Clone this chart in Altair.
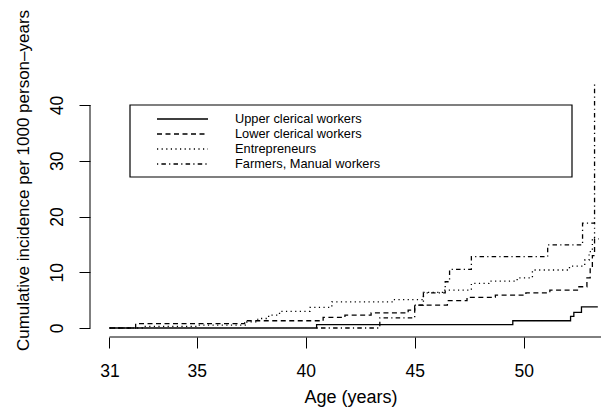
import altair as alt
import pandas as pd

groups = ["Upper clerical workers", "Lower clerical workers",
          "Entrepreneurs", "Farmers, Manual workers"]

upper_age = [31.0, 40.5, 49.5, 52.15, 52.3, 52.65, 53.4]
upper_inc = [0.0, 0.6, 1.3, 2.1, 2.8, 3.8, 3.8]

lower_age = [31.0, 32.2, 37.2, 40.8, 41.8, 43.0, 44.7, 45.0, 46.5, 47.4, 48.7,
             50.1, 51.2, 52.5, 52.9, 53.05, 53.15, 53.25, 53.45]
lower_inc = [0.0, 0.8, 1.3, 1.9, 2.3, 2.7, 3.2, 4.1, 4.9, 5.5, 5.9,
             6.3, 6.8, 7.4, 9.0, 10.8, 13.0, 16.0, 16.0]

entre_age = [31.0, 32.5, 35.0, 37.3, 37.8, 38.3, 38.8, 40.2, 41.2, 44.0, 45.4,
             46.3, 47.6, 48.4, 49.7, 50.4, 52.1, 52.8, 53.0, 53.15, 53.25, 53.35]
entre_inc = [0.0, 0.3, 0.5, 1.1, 1.7, 2.3, 3.0, 3.7, 4.7, 5.1, 6.4,
             6.8, 8.0, 8.4, 9.0, 10.4, 11.1, 12.2, 13.7, 16.1, 18.8, 18.8]

farm_age = [40.5, 43.4, 45.0, 45.4, 46.4, 46.6, 47.6, 51.1, 52.7, 53.25, 53.3]
farm_inc = [0.0, 1.8, 4.1, 6.3, 8.3, 10.5, 12.8, 14.9, 18.8, 44.0, 44.0]

x_ticks = [31, 35, 40, 45, 50]
y_ticks = [0, 10, 20, 30, 40]

X_DOMAIN = [30.106, 53.546]
Y_DOMAIN = [-1.614, 45.74]
W, H = 511, 264
FONT = "Liberation Sans"

rows = []
for g, ages, incs in zip(groups,
                         [upper_age, lower_age, entre_age, farm_age],
                         [upper_inc, lower_inc, entre_inc, farm_inc]):
    for a, v in zip(ages, incs):
        rows.append({"group": g, "age": a, "inc": v})
df = pd.DataFrame(rows)

dash_scale = alt.Scale(domain=groups,
                       range=[[1, 0], [5, 3.5], [1.2, 3.4], [1.2, 3.2, 4.5, 3.2]])
xs = alt.Scale(domain=X_DOMAIN, nice=False, zero=False)
ys = alt.Scale(domain=Y_DOMAIN, nice=False, zero=False)

lines = alt.Chart(df).mark_line(interpolate="step-after", color="black",
                                strokeWidth=1.3).encode(
    x=alt.X("age:Q", scale=xs, axis=alt.Axis(
        values=x_ticks, title="Age (years)", domain=False, grid=False,
        tickSize=11, tickColor="black", tickWidth=1,
        labelFont=FONT, labelFontSize=17.5, labelColor="black", labelPadding=14,
        titleFont=FONT, titleFontSize=18, titleFontWeight="normal",
        titleColor="black", titleX=260.5, titleY=65, titleBaseline="alphabetic")),
    y=alt.Y("inc:Q", scale=ys, axis=alt.Axis(
        values=y_ticks, title="Cumulative incidence per 1000 person\u2013years",
        domain=False, grid=False, tickSize=11, tickColor="black", tickWidth=1,
        labelFont=FONT, labelFontSize=17.5, labelColor="black", labelAngle=270,
        labelAlign="center", labelBaseline="alphabetic", labelPadding=17,
        titleFont=FONT, titleFontSize=17, titleFontWeight="normal",
        titleColor="black", titleAngle=270, titleX=-62, titleY=107,
        titleAlign="center", titleBaseline="alphabetic")),
    strokeDash=alt.StrokeDash("group:N", scale=dash_scale, legend=None),
    detail="group:N",
)

yaxis_line = alt.Chart(pd.DataFrame({"inc": [y_ticks[0]], "inc2": [y_ticks[-1]]})).mark_rule(
    color="black", strokeWidth=1).encode(
    x=alt.value(0), y=alt.Y("inc:Q", scale=ys), y2="inc2:Q")

xaxis_line = alt.Chart(pd.DataFrame({"age": [x_ticks[0]], "age2": [X_DOMAIN[1]]})).mark_rule(
    color="black", strokeWidth=1).encode(
    x=alt.X("age:Q", scale=xs), x2="age2:Q", y=alt.value(H))

plot = alt.layer(lines, yaxis_line, xaxis_line)

legend_df = pd.DataFrame({"group": groups})
ly = alt.Y("group:N", scale=alt.Scale(type="point", domain=groups, range=[46, 91], padding=0),
           axis=None)

legend_box = alt.Chart(pd.DataFrame({"k": [0]})).mark_rect(
    fillOpacity=0, stroke="black", strokeWidth=1.2).encode(
    x=alt.value(40), x2=alt.value(482), y=alt.value(32), y2=alt.value(104))

legend_lines = alt.Chart(legend_df).mark_rule(color="black", strokeWidth=1.3).encode(
    x=alt.value(67), x2=alt.value(118), y=ly,
    strokeDash=alt.StrokeDash("group:N", scale=dash_scale, legend=None))

legend_text = alt.Chart(legend_df).mark_text(
    align="left", baseline="middle", font=FONT, fontSize=12.8, color="black").encode(
    x=alt.value(145), y=ly, text="group:N")

legend = alt.layer(legend_box, legend_lines, legend_text)

chart = alt.layer(plot, legend).resolve_scale(y="independent").properties(
    width=W, height=H,
    autosize=alt.AutoSizeParams(type="none"),
    padding={"left": 82, "top": 65, "right": 0, "bottom": 71},
    background="white",
).configure_view(stroke=None)

chart.save("out.html", embed_options={"renderer": "svg", "actions": False})
